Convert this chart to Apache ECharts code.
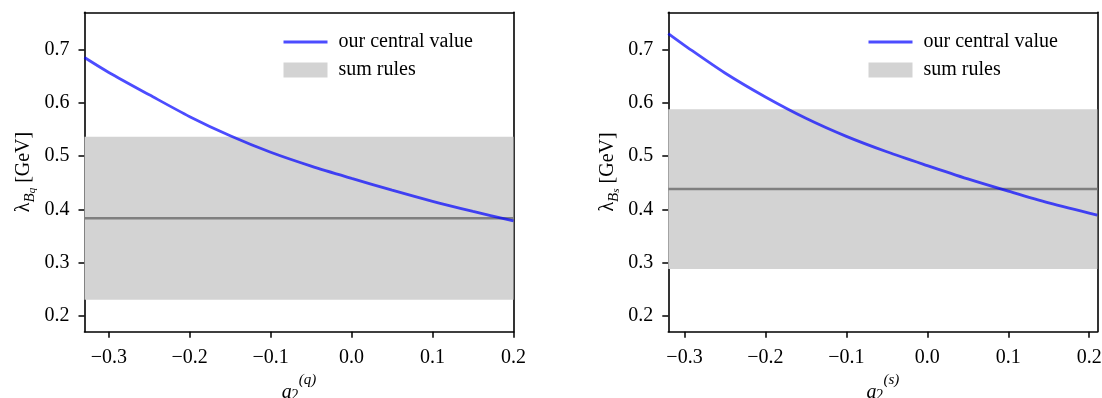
<!DOCTYPE html>
<html>
<head>
<meta charset="utf-8">
<script src="https://cdn.jsdelivr.net/npm/echarts@6/dist/echarts.min.js"></script>
<style>
  html, body { margin: 0; padding: 0; background: #fff; }
  #main { width: 1102px; height: 398px; }
</style>
</head>
<body>
<div id="main"></div>
<script>
// a2 values along the x axis and the central lambda_B values
var xBq = [-0.33, -0.30, -0.25, -0.20, -0.15, -0.10, -0.05, 0.00, 0.05, 0.10, 0.15, 0.20];
var lambdaBq = [0.685, 0.657, 0.615, 0.574, 0.538, 0.507, 0.481, 0.458, 0.436, 0.415, 0.396, 0.378];
var xBs = [-0.32, -0.30, -0.25, -0.20, -0.15, -0.10, -0.05, 0.00, 0.05, 0.10, 0.15, 0.21];
var lambdaBs = [0.730, 0.708, 0.656, 0.611, 0.571, 0.537, 0.508, 0.482, 0.457, 0.434, 0.412, 0.389];

// sum rules band [low, high] and its central value
var bandBq = [0.230, 0.536];
var centralBq = 0.383;
var bandBs = [0.288, 0.588];
var centralBs = 0.438;

var xRangeBq = [-0.33, 0.20];
var xRangeBs = [-0.32, 0.21];
var yRange = [0.17, 0.77];
var xTicks = [-0.3, -0.2, -0.1, 0.0, 0.1, 0.2];
var yTicks = [0.2, 0.3, 0.4, 0.5, 0.6, 0.7];

var FONT = "Liberation Serif";
var FS = 20;

function fmt(v) {
  var s = Math.abs(v).toFixed(1);
  return v < -1e-9 ? "\u2212" + s : s;
}

var dom = document.getElementById("main");
var myChart = echarts.init(dom, null, { renderer: "canvas" });

var grids = [
  { left: 84.5, top: 12.3, width: 429, height: 319.4, outerBoundsMode: "none" },
  { left: 668.3, top: 12.3, width: 429, height: 319.4, outerBoundsMode: "none" }
];

function mainX(gi, range, sup) {
  return {
    type: "value",
    gridIndex: gi,
    min: range[0],
    max: range[1],
    position: "bottom",
    splitLine: { show: false },
    axisLine: { show: true, onZero: false, lineStyle: { color: "#000", width: 1.6 } },
    axisTick: { show: true, customValues: xTicks, length: 6, lineStyle: { color: "#000", width: 1.5 } },
    axisLabel: {
      customValues: xTicks, margin: 16, color: "#000",
      fontFamily: FONT, fontSize: FS, formatter: fmt
    },
    name: "{a|a}{s|2}{p|(" + sup + ")}",
    nameLocation: "middle",
    nameGap: 38,
    nameTextStyle: {
      rich: {
        a: { fontFamily: FONT, fontStyle: "italic", fontSize: FS, color: "#000", lineHeight: 30, verticalAlign: "bottom" },
        s: { fontFamily: FONT, fontSize: 14, color: "#000", verticalAlign: "bottom", lineHeight: 30 },
        p: { fontFamily: FONT, fontStyle: "italic", fontSize: 15, color: "#000", verticalAlign: "top", lineHeight: 30 }
      }
    }
  };
}

function frameX(gi, range) {
  return {
    type: "value", gridIndex: gi, min: range[0], max: range[1], position: "top",
    splitLine: { show: false }, axisTick: { show: false }, axisLabel: { show: false },
    axisLine: { show: true, onZero: false, lineStyle: { color: "#000", width: 1.6 } }
  };
}

function mainY(gi, sub) {
  return {
    type: "value",
    gridIndex: gi,
    min: yRange[0],
    max: yRange[1],
    position: "left",
    splitLine: { show: false },
    axisLine: { show: true, onZero: false, lineStyle: { color: "#000", width: 1.6 } },
    axisTick: { show: true, customValues: yTicks, length: 6, lineStyle: { color: "#000", width: 1.5 } },
    axisLabel: {
      customValues: yTicks, margin: 15, color: "#000",
      fontFamily: FONT, fontSize: FS, formatter: fmt
    },
    name: "{l|\u03bb}{b|B}{q|" + sub + "}{t| [GeV]}",
    nameLocation: "middle",
    nameRotate: 90,
    nameGap: 47,
    nameTextStyle: {
      rich: {
        l: { fontFamily: FONT, fontSize: FS, color: "#000", lineHeight: 28, verticalAlign: "middle" },
        b: { fontFamily: FONT, fontStyle: "italic", fontSize: 15, color: "#000", lineHeight: 28, verticalAlign: "bottom" },
        q: { fontFamily: FONT, fontStyle: "italic", fontSize: 11, color: "#000", lineHeight: 24, verticalAlign: "bottom" },
        t: { fontFamily: FONT, fontSize: FS, color: "#000", lineHeight: 28, verticalAlign: "middle" }
      }
    }
  };
}

function frameY(gi) {
  return {
    type: "value", gridIndex: gi, min: yRange[0], max: yRange[1], position: "right",
    splitLine: { show: false }, axisTick: { show: false }, axisLabel: { show: false },
    axisLine: { show: true, onZero: false, lineStyle: { color: "#000", width: 1.6 } }
  };
}

function zipXY(xs, ys) {
  var out = [];
  for (var i = 0; i < xs.length; i++) out.push([xs[i], ys[i]]);
  return out;
}

function panelSeries(ax, xs, ys, band, central, range) {
  return [
    {
      name: "sum rules",
      type: "line",
      xAxisIndex: ax,
      yAxisIndex: ax,
      data: [],
      z: 1,
      symbol: "none",
      itemStyle: { color: "#d3d3d3" },
      lineStyle: { width: 0 },
      silent: true,
      markArea: {
        silent: true,
        itemStyle: { color: "#d3d3d3" },
        data: [[{ yAxis: band[0] }, { yAxis: band[1] }]]
      }
    },
    {
      name: "central",
      type: "line",
      xAxisIndex: ax,
      yAxisIndex: ax,
      z: 2,
      symbol: "none",
      data: [[range[0], central], [range[1], central]],
      lineStyle: { color: "#7f7f7f", width: 2.5 }
    },
    {
      name: "our central value",
      type: "line",
      xAxisIndex: ax,
      yAxisIndex: ax,
      z: 3,
      symbol: "none",
      smooth: 0.3,
      data: zipXY(xs, ys),
      itemStyle: { color: "rgba(0,0,255,0.7)" },
      lineStyle: { color: "rgba(0,0,255,0.7)", width: 2.8 }
    }
  ];
}

function legendAt(left) {
  return {
    left: left,
    top: 27,
    orient: "vertical",
    itemWidth: 44,
    itemHeight: 15,
    itemGap: 8,
    textStyle: { fontFamily: FONT, fontSize: FS, color: "#000", padding: [0, 0, 0, 6] },
    selectedMode: false,
    data: [
      { name: "our central value", itemStyle: { opacity: 0 }, lineStyle: { width: 3 } },
      { name: "sum rules", icon: "rect" }
    ]
  };
}

var option = {
  animation: false,
  grid: grids,
  legend: [legendAt(277), legendAt(862)],
  xAxis: [
    mainX(0, xRangeBq, "q"), mainX(1, xRangeBs, "s"),
    frameX(0, xRangeBq), frameX(1, xRangeBs)
  ],
  yAxis: [
    mainY(0, "q"), mainY(1, "s"),
    frameY(0), frameY(1)
  ],
  series: panelSeries(0, xBq, lambdaBq, bandBq, centralBq, xRangeBq)
    .concat(panelSeries(1, xBs, lambdaBs, bandBs, centralBs, xRangeBs))
};

myChart.setOption(option);
window.addEventListener("resize", myChart.resize);
</script>
</body>
</html>
